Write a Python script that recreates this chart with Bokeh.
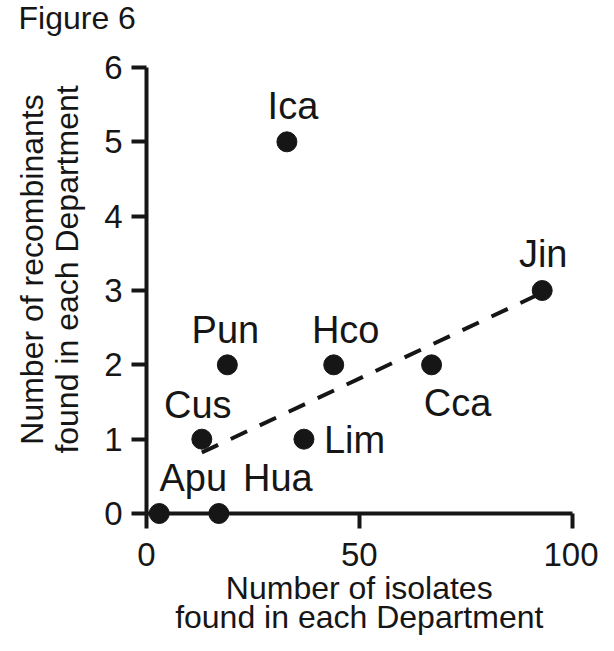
import math
from bokeh.plotting import figure
from bokeh.models import Range1d, FixedTicker, ColumnDataSource, Label
from bokeh.core.properties import value
from bokeh.embed import file_html
from bokeh.resources import INLINE

# ---- data ----
departments = ["Apu", "Hua", "Cus", "Lim", "Pun", "Hco", "Cca", "Ica", "Jin"]
isolates = [3, 17, 13, 37, 19, 44, 67, 33, 93]
recombinants = [0, 0, 1, 1, 2, 2, 2, 5, 3]
fit_x = [13, 93]
fit_y = [0.82, 2.97]
x_ticks = [0, 50, 100]
y_ticks = [0, 1, 2, 3, 4, 5, 6]
x_bounds = (0, 100)
y_bounds = (0, 6)
title_text = "Figure 6"
x_label = ["Number of isolates", "found in each Department"]
y_label = ["Number of recombinants", "found in each Department"]

# ---- layout / style ----
W, H = 598, 635
X0, SX = 146, 4.255     # canvas px of x=0, px per x unit
Y0, SY = 513, 74.333    # canvas px of y=0, px per y unit
FONT = "Liberation Sans"
INK = "#161616"


def to_x(px):
    return (px - X0) / SX


def to_y(py):
    return (Y0 - py) / SY


# label offsets in px (dx, dy; dy positive = down), alignment
label_style = {
    "Apu": (34, -36, "center"),
    "Hua": (59, -36, "center"),
    "Cus": (-4, -34, "center"),
    "Lim": (20, 1, "left"),
    "Pun": (-2, -35, "center"),
    "Hco": (12, -35, "center"),
    "Cca": (26, 38, "center"),
    "Ica": (6, -36, "center"),
    "Jin": (1, -37, "center"),
}

p = figure(width=W, height=H, min_border=0,
           x_range=Range1d(to_x(0), to_x(W)), y_range=Range1d(to_y(H), to_y(0)),
           output_backend="svg", toolbar_location=None)
p.title.visible = False
p.outline_line_color = None
p.xgrid.visible = False
p.ygrid.visible = False
p.background_fill_color = "white"
p.border_fill_color = "white"

for ax, ticks, bnds in ((p.xaxis[0], x_ticks, x_bounds), (p.yaxis[0], y_ticks, y_bounds)):
    ax.fixed_location = 0
    ax.bounds = bnds
    ax.ticker = FixedTicker(ticks=ticks)
    ax.minor_tick_line_color = None
    ax.major_tick_in = 0
    ax.major_tick_out = 15
    ax.axis_line_width = 4
    ax.major_tick_line_width = 4
    ax.axis_line_color = INK
    ax.major_tick_line_color = INK
    ax.major_label_text_font = FONT
    ax.major_label_text_font_size = "33px"
    ax.major_label_text_color = INK
p.xaxis[0].major_label_standoff = 14
p.yaxis[0].major_label_standoff = 9

p.line(fit_x, fit_y, line_width=4, line_dash="18 14", line_color=INK)
p.scatter(isolates, recombinants, size=20, color=INK)

for align in ("center", "left"):
    idx = [i for i, d in enumerate(departments) if label_style[d][2] == align]
    src = ColumnDataSource(dict(
        x=[isolates[i] for i in idx],
        y=[recombinants[i] for i in idx],
        t=[departments[i] for i in idx],
        dx=[label_style[departments[i]][0] for i in idx],
        dy=[label_style[departments[i]][1] for i in idx],
    ))
    p.text(x="x", y="y", text="t", x_offset="dx", y_offset="dy", source=src,
           text_font=value(FONT), text_font_size="38px", text_color=INK,
           text_align=align, text_baseline="alphabetic")


def add_label(text, px, py, size, align="center", angle=0.0):
    p.add_layout(Label(x=to_x(px), y=to_y(py), text=text, angle=angle,
                       text_font=FONT, text_font_size=size, text_color=INK,
                       text_align=align, text_baseline="alphabetic"))


add_label(title_text, 18, 17, "32px", align="left")
add_label(x_label[0], X0 + 50 * SX, 587, "32px")
add_label(x_label[1], X0 + 50 * SX, 616, "32px")
add_label(y_label[0], 31, 269, "32px", angle=math.pi / 2)
add_label(y_label[1], 66, 269, "32px", angle=math.pi / 2)

open("out.html", "w").write(file_html(p, INLINE))
